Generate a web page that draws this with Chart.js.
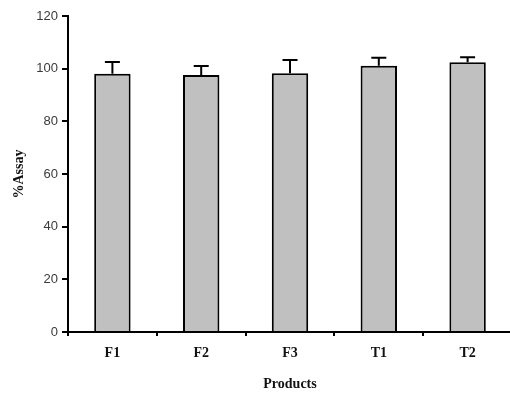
<!DOCTYPE html>
<html>
<head>
<meta charset="utf-8">
<script src="https://cdn.jsdelivr.net/npm/chart.js@4/dist/chart.umd.min.js"></script>
<style>
  html, body { margin: 0; padding: 0; background: #fff; overflow: hidden; }
  #wrap { width: 512px; height: 393px; }
</style>
</head>
<body>
<div id="wrap"><canvas id="c" width="512" height="393"></canvas></div>
<script>
// Assay results per product (mean %) and their standard deviations
const products = ['F1', 'F2', 'F3', 'T1', 'T2'];
const assay = [98.1, 97.6, 98.3, 101.1, 102.4];
const sd = [4.4, 3.4, 5.0, 3.0, 1.9];
const yTicks = [0, 20, 40, 60, 80, 100, 120];

// Upper error whiskers drawn on top of each bar
const errorBars = {
  id: 'errorBars',
  afterDatasetsDraw(chart) {
    const { ctx } = chart;
    const yScale = chart.scales.y;
    const meta = chart.getDatasetMeta(0);
    ctx.save();
    ctx.strokeStyle = '#000';
    ctx.lineWidth = 2;
    meta.data.forEach((bar, i) => {
      const x = bar.x;
      const yTop = yScale.getPixelForValue(assay[i]);
      const yEnd = yScale.getPixelForValue(assay[i] + sd[i]);
      ctx.beginPath();
      ctx.moveTo(x, yTop);
      ctx.lineTo(x, yEnd);
      ctx.moveTo(x - 7.5, yEnd);
      ctx.lineTo(x + 7.5, yEnd);
      ctx.stroke();
    });
    ctx.restore();
  }
};

const serifBold = { family: "'Liberation Serif', 'Times New Roman', serif", size: 14, weight: 'bold' };

new Chart(document.getElementById('c'), {
  type: 'bar',
  data: {
    labels: products,
    datasets: [{
      data: assay,
      backgroundColor: '#c0c0c0',
      borderColor: '#000',
      borderWidth: 2,
      borderSkipped: 'bottom',
      categoryPercentage: 1,
      barPercentage: 0.41
    }]
  },
  options: {
    responsive: false,
    devicePixelRatio: 1,
    animation: false,
    layout: { padding: { top: 16, right: 0, left: 0, bottom: 0 } },
    plugins: { legend: { display: false }, tooltip: { enabled: false } },
    scales: {
      x: {
        grid: { display: true, drawOnChartArea: false, drawTicks: true, tickLength: 4, color: '#000', lineWidth: 2, offset: true },
        border: { display: true, color: '#000', width: 2 },
        ticks: { color: '#111', font: serifBold, padding: 9 },
        title: { display: true, text: 'Products', color: '#111', font: serifBold, padding: { top: 6, bottom: 0 } },
        afterFit(s) { s.height = 61; }
      },
      y: {
        min: 0,
        max: 120,
        afterBuildTicks(s) { s.ticks = yTicks.map(v => ({ value: v })); },
        grid: { display: true, drawOnChartArea: false, drawTicks: true, tickLength: 6, color: '#000', lineWidth: 2 },
        border: { display: true, color: '#000', width: 2 },
        ticks: { color: '#3a3a3a', font: { family: "'Liberation Sans', Arial, sans-serif", size: 13 }, padding: 4 },
        title: { display: true, text: '%Assay', color: '#111', font: serifBold, padding: { top: 11, bottom: 0 } },
        afterFit(s) { s.width = 68; }
      }
    }
  },
  plugins: [errorBars]
});
</script>
</body>
</html>
